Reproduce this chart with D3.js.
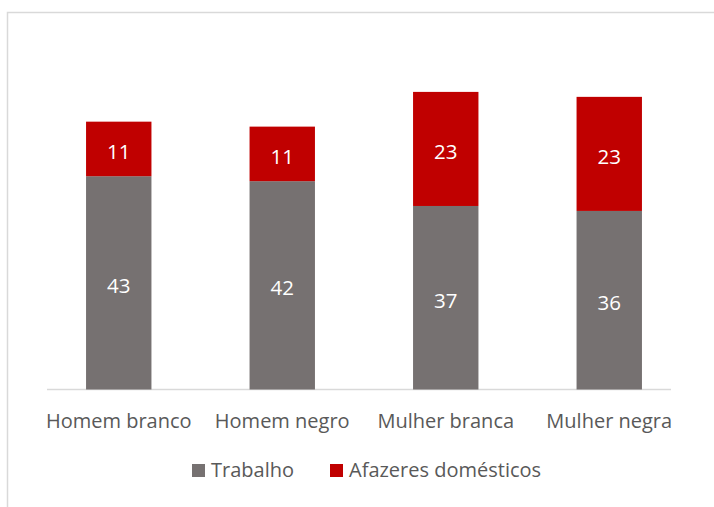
<!DOCTYPE html>
<html>
<head>
<meta charset="utf-8">
<script src="https://cdn.jsdelivr.net/npm/d3@7"></script>
<style>
  body { margin: 0; background: #fff; }
  svg { display: block; font-family: "Open Sans", "Noto Sans", sans-serif; }
</style>
</head>
<body>
<svg id="chart" width="714" height="507"></svg>
<script>
'use strict';

// Data
const categories = ['Homem branco', 'Homem negro', 'Mulher branca', 'Mulher negra'];
const trabalho = [43, 42, 37, 36];
const afazeres = [11, 11, 23, 23];
const seriesNames = ['Trabalho', 'Afazeres domésticos'];
const seriesColors = ['#767171', '#C00000'];

const svg = d3.select('#chart');

// light frame around chart area (right/bottom edges fall outside the picture)
svg.append('rect')
    .attr('x', 7.5).attr('y', 12.5)
    .attr('width', 720).attr('height', 510)
    .attr('fill', 'none')
    .attr('stroke', '#d9d9d9')
    .attr('stroke-width', 1.5);

const x = d3.scaleBand()
    .domain(categories)
    .range([37, 691])
    .paddingInner(0.6)
    .paddingOuter(0.3);

const y = d3.scaleLinear()
    .domain([0, 70])
    .range([389.5, 42.3]);

const rows = categories.map((c, i) => ({ cat: c, trabalho: trabalho[i], afazeres: afazeres[i] }));
const stack = d3.stack().keys(['trabalho', 'afazeres'])(rows);

// axis baseline
svg.append('line')
    .attr('x1', 47).attr('x2', 671)
    .attr('y1', 389.5).attr('y2', 389.5)
    .attr('stroke', '#d9d9d9')
    .attr('stroke-width', 1.5);

const layers = svg.selectAll('g.layer')
    .data(stack)
    .join('g')
    .attr('class', 'layer')
    .attr('fill', (d, i) => seriesColors[i]);

layers.selectAll('rect')
    .data(d => d)
    .join('rect')
    .attr('x', d => x(d.data.cat))
    .attr('width', x.bandwidth())
    .attr('y', d => y(d[1]))
    .attr('height', d => y(d[0]) - y(d[1]));

layers.selectAll('text')
    .data(d => d)
    .join('text')
    .attr('x', d => x(d.data.cat) + x.bandwidth() / 2)
    .attr('y', d => (y(d[0]) + y(d[1])) / 2)
    .attr('dy', '0.48em')
    .attr('text-anchor', 'middle')
    .attr('fill', '#ffffff')
    .attr('font-size', 20.5)
    .text(d => d[1] - d[0]);

// category labels
svg.append('g')
    .selectAll('text')
    .data(categories)
    .join('text')
    .attr('x', d => x(d) + x.bandwidth() / 2)
    .attr('y', 428)
    .attr('text-anchor', 'middle')
    .attr('fill', '#595959')
    .attr('font-size', 20)
    .text(d => d);

// legend
const legendX = [192, 330];
const legend = svg.append('g')
    .selectAll('g')
    .data(seriesNames)
    .join('g')
    .attr('transform', (d, i) => `translate(${legendX[i]},464)`);

legend.append('rect')
    .attr('width', 13).attr('height', 13)
    .attr('fill', (d, i) => seriesColors[i]);

legend.append('text')
    .attr('x', 19)
    .attr('y', 13)
    .attr('fill', '#595959')
    .attr('font-size', 20)
    .text(d => d);
</script>
</body>
</html>
